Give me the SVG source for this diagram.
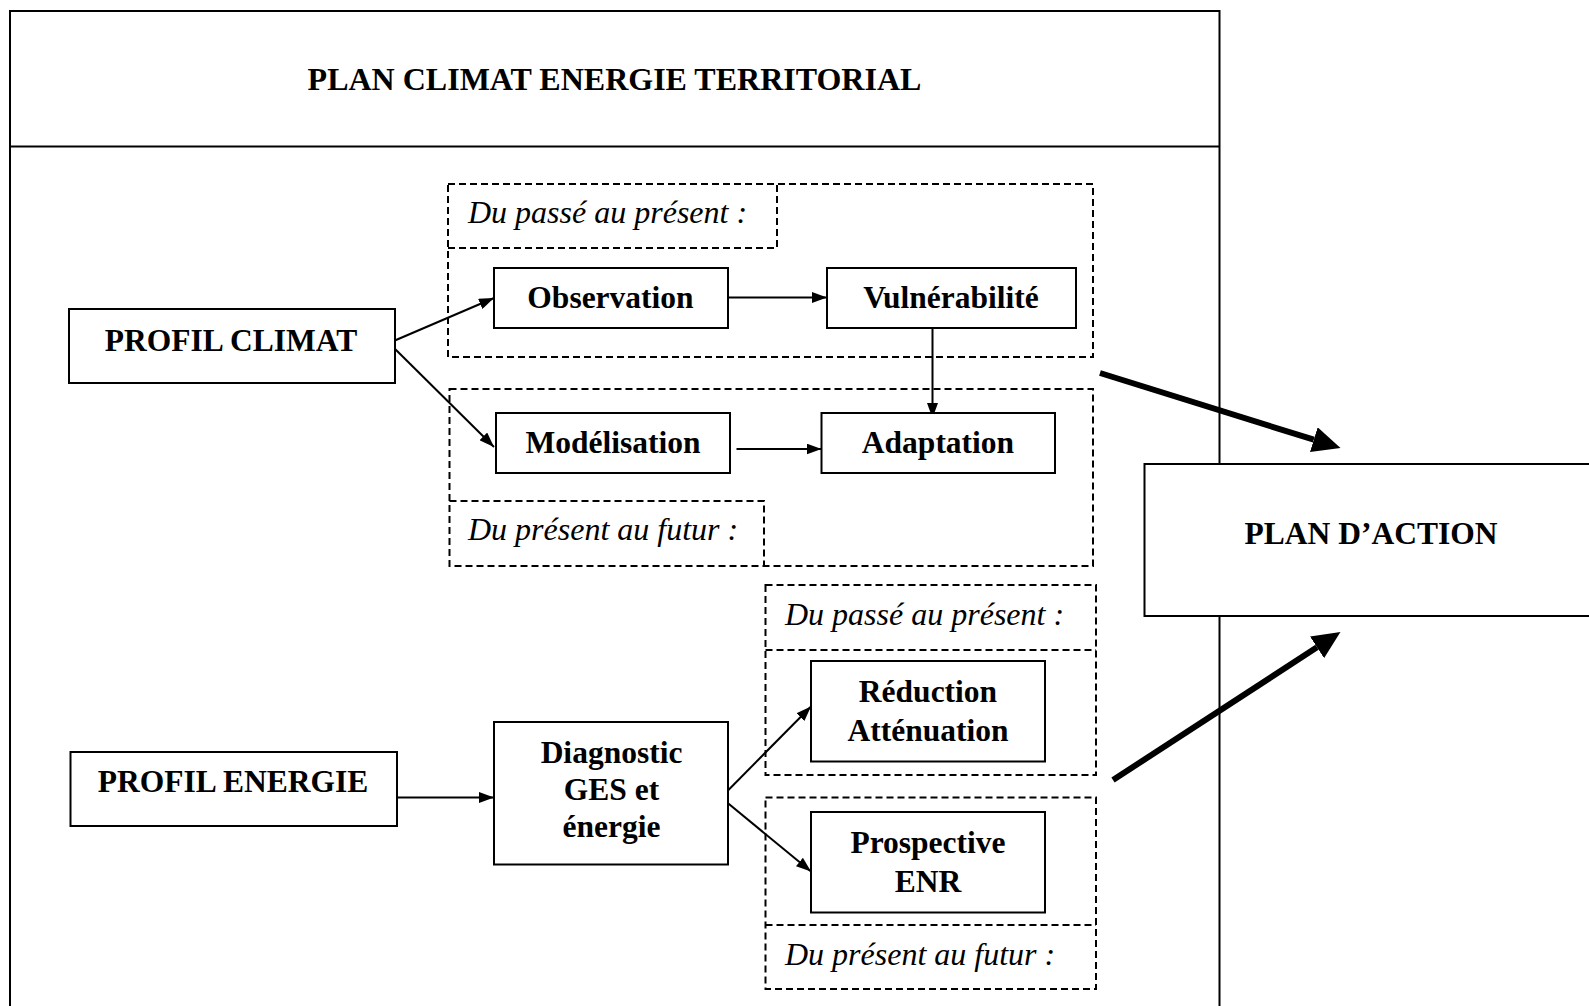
<svg xmlns="http://www.w3.org/2000/svg" width="1589" height="1006" viewBox="0 0 1589 1006">
<style>
.box{fill:#fff;stroke:#000;stroke-width:2}
.frame{fill:none;stroke:#000;stroke-width:2}
.dash{fill:none;stroke:#000;stroke-width:2;stroke-dasharray:7 4}
.b{font-family:"Liberation Serif","Times New Roman",serif;font-weight:bold;font-size:31.5px;fill:#000;text-anchor:middle}
.t{font-size:32px}
.i{font-family:"Liberation Serif","Times New Roman",serif;font-style:italic;font-size:32px;fill:#000}
.thin{fill:none;stroke:#000;stroke-width:2;marker-end:url(#ah)}
.thick{fill:none;stroke:#000;stroke-width:6;marker-end:url(#bh)}
</style>
<defs>
<marker id="ah" markerUnits="userSpaceOnUse" viewBox="0 0 15 11" refX="15" refY="5.5" markerWidth="15" markerHeight="11" orient="auto"><path d="M0,0 L15,5.5 L0,11 z" fill="#000"/></marker>
<marker id="bh" markerUnits="userSpaceOnUse" viewBox="0 0 28 26" refX="0" refY="13" markerWidth="28" markerHeight="26" orient="auto"><path d="M0,0 L28,13 L0,26 z" fill="#000"/></marker>
</defs>
<rect width="1589" height="1006" fill="#fff"/>

<g id="frame">
<rect class="frame" x="10" y="11" width="1209.5" height="1010"/>
<line class="frame" x1="10" y1="146.5" x2="1219.5" y2="146.5"/>
<text class="b t" x="614.5" y="90">PLAN CLIMAT ENERGIE TERRITORIAL</text>
</g>

<g id="climat-passe">
<rect class="dash" x="448" y="184" width="645" height="173"/>
<path class="dash" d="M448,248 H777 V184"/>
<text class="i" x="468" y="223">Du passé au présent :</text>
</g>
<g id="climat-futur">
<rect class="dash" x="449.5" y="389" width="643.5" height="177"/>
<path class="dash" d="M449.5,501 H764 V566"/>
<text class="i" x="468" y="540">Du présent au futur :</text>
</g>
<g id="energie-passe">
<rect class="dash" x="765.5" y="585" width="330.5" height="190"/>
<line class="dash" x1="765.5" y1="650" x2="1096" y2="650"/>
<text class="i" x="785" y="625">Du passé au présent :</text>
</g>
<g id="energie-futur">
<rect class="dash" x="765.5" y="797.5" width="330.5" height="191.5"/>
<line class="dash" x1="765.5" y1="925" x2="1096" y2="925"/>
<text class="i" x="785" y="965">Du présent au futur :</text>
</g>

<g id="connectors">
<line class="thin" x1="389" y1="343" x2="494" y2="298"/>
<line class="thin" x1="389" y1="343" x2="494" y2="447"/>
<line class="thin" x1="721" y1="297.5" x2="827" y2="297.5"/>
<line class="thin" x1="932.5" y1="328" x2="932.5" y2="418"/>
<line class="thin" x1="736.5" y1="449" x2="821.5" y2="449"/>
<line class="thin" x1="389" y1="797.5" x2="494" y2="797.5"/>
<line class="thin" x1="721" y1="797.5" x2="811" y2="706.5"/>
<line class="thin" x1="721" y1="797.5" x2="811" y2="871.5"/>
<line class="thick" x1="1100" y1="373" x2="1313.8" y2="439.7"/>
<line class="thick" x1="1113" y1="780" x2="1317" y2="647.3"/>
</g>

<g id="profil-climat">
<rect class="box" x="69" y="309" width="326" height="74"/>
<text class="b" x="231" y="350.5">PROFIL CLIMAT</text>
</g>
<g id="observation">
<rect class="box" x="494" y="268" width="234" height="60"/>
<text class="b" x="610.5" y="307.5">Observation</text>
</g>
<g id="vulnerabilite">
<rect class="box" x="827" y="268" width="249" height="60"/>
<text class="b" x="951" y="307.5">Vulnérabilité</text>
</g>
<g id="modelisation">
<rect class="box" x="496" y="413" width="234" height="60"/>
<text class="b" x="613" y="452.5">Modélisation</text>
</g>
<g id="adaptation">
<rect class="box" x="821.5" y="413" width="233.5" height="60"/>
<text class="b" x="938" y="452.5">Adaptation</text>
</g>
<g id="profil-energie">
<rect class="box" x="70.5" y="752" width="326.5" height="74"/>
<text class="b" x="233" y="791.5">PROFIL ENERGIE</text>
</g>
<g id="diagnostic">
<rect class="box" x="494" y="722" width="234" height="142.5"/>
<text class="b" x="611.5" y="762.5">Diagnostic</text>
<text class="b" x="611.5" y="800">GES et</text>
<text class="b" x="611.5" y="837">énergie</text>
</g>
<g id="reduction">
<rect class="box" x="811" y="661" width="234" height="100.5"/>
<text class="b" x="928" y="701.5">Réduction</text>
<text class="b" x="928" y="740.5">Atténuation</text>
</g>
<g id="prospective">
<rect class="box" x="811" y="812" width="234" height="100.5"/>
<text class="b" x="928" y="852.5">Prospective</text>
<text class="b" x="928" y="891.5">ENR</text>
</g>
<g id="plan-action">
<rect class="box" x="1144.5" y="464" width="460" height="152"/>
<text class="b" x="1371" y="544">PLAN D’ACTION</text>
</g>
</svg>
